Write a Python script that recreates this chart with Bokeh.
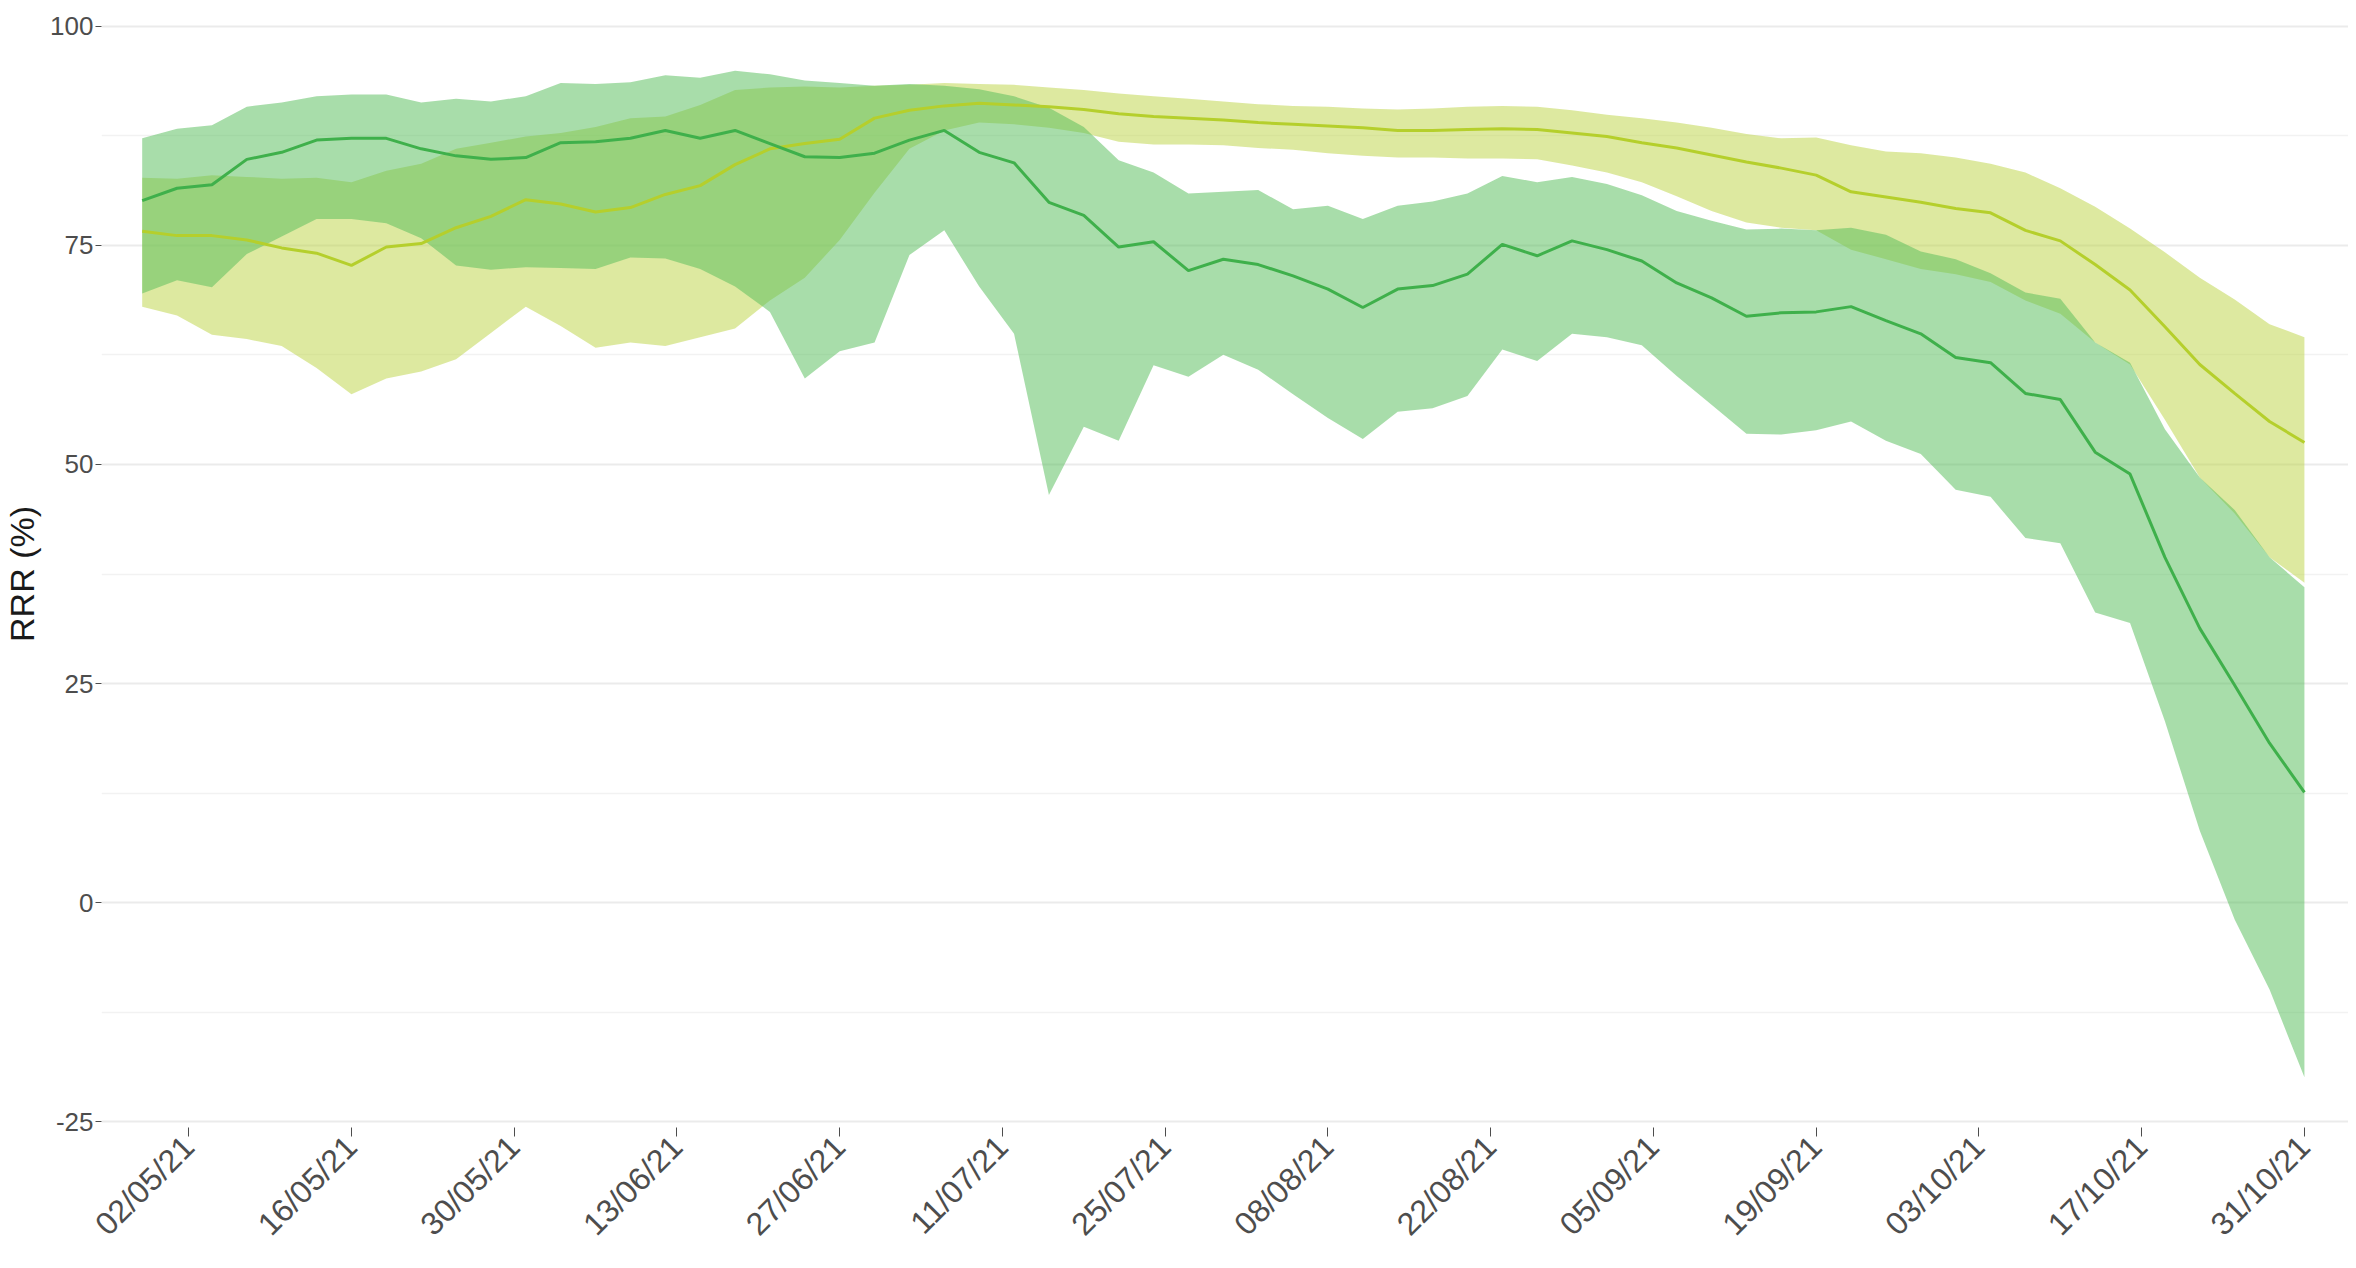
import pandas as pd
from math import pi
from bokeh.plotting import figure
from bokeh.models import Range1d, FixedTicker
from bokeh.embed import file_html
from bokeh.resources import INLINE

dates = pd.date_range("2021-04-28", periods=63, freq="3D")

green_mid = [80.1, 81.5, 81.9, 84.8, 85.6, 87.0, 87.2, 87.2, 86.0, 85.2, 84.8, 85.0,
             86.7, 86.8, 87.2, 88.1, 87.2, 88.1, 86.6, 85.1, 85.0, 85.5, 87.0, 88.1,
             85.6, 84.4, 79.9, 78.4, 74.8, 75.4, 72.1, 73.4, 72.8, 71.5, 70.0, 67.9,
             70.0, 70.4, 71.7, 75.1, 73.8, 75.5, 74.5, 73.2, 70.7, 69.0, 66.9, 67.3,
             67.4, 68.0, 66.4, 64.9, 62.2, 61.6, 58.1, 57.4, 51.4, 48.9, 39.4, 31.3, 24.8, 18.2, 12.6]
green_hi = [87.2, 88.3, 88.7, 90.8, 91.3, 92.0, 92.2, 92.2, 91.3, 91.7, 91.4, 92.0,
            93.5, 93.4, 93.6, 94.4, 94.1, 94.9, 94.5, 93.8, 93.5, 93.2, 93.4, 93.2,
            92.8, 92.0, 90.7, 88.5, 84.7, 83.3, 80.9, 81.1, 81.3, 79.1, 79.5, 78.0,
            79.5, 80.0, 80.9, 82.9, 82.2, 82.8, 82.0, 80.7, 78.9, 77.8, 76.8, 76.9,
            76.7, 77.0, 76.2, 74.3, 73.4, 71.8, 69.6, 68.9, 63.9, 61.6, 54.0, 48.5, 44.8, 39.4, 36.0]
green_lo = [69.5, 71.0, 70.2, 74.0, 76.0, 78.0, 78.0, 77.5, 75.8, 72.7, 72.2, 72.5,
            72.4, 72.3, 73.6, 73.5, 72.3, 70.3, 67.4, 59.8, 62.9, 63.9, 73.9, 76.7,
            70.3, 64.9, 46.5, 54.3, 52.7, 61.3, 60.0, 62.5, 60.8, 58.0, 55.3, 52.9,
            56.0, 56.4, 57.8, 63.1, 61.8, 64.9, 64.5, 63.6, 60.1, 56.8, 53.5, 53.4,
            53.9, 54.9, 52.7, 51.2, 47.1, 46.3, 41.6, 41.0, 33.1, 31.9, 20.7, 8.2, -1.9, -9.9, -19.9]

yellow_mid = [76.6, 76.1, 76.1, 75.6, 74.7, 74.1, 72.7, 74.8, 75.2, 77.0, 78.3, 80.2,
              79.7, 78.8, 79.3, 80.8, 81.8, 84.2, 86.0, 86.6, 87.1, 89.5, 90.4, 90.9,
              91.2, 91.0, 90.8, 90.5, 90.0, 89.7, 89.5, 89.3, 89.0, 88.8, 88.6, 88.4,
              88.1, 88.1, 88.2, 88.3, 88.2, 87.8, 87.4, 86.7, 86.1, 85.3, 84.5, 83.8,
              83.0, 81.1, 80.5, 79.9, 79.2, 78.7, 76.7, 75.5, 72.8, 69.9, 65.7, 61.4, 58.1, 54.9, 52.5]
yellow_hi = [82.7, 82.6, 83.0, 82.8, 82.6, 82.7, 82.2, 83.5, 84.3, 86.0, 86.7, 87.4,
             87.8, 88.5, 89.5, 89.7, 91.0, 92.7, 93.0, 93.1, 93.0, 93.2, 93.3, 93.5,
             93.4, 93.3, 93.0, 92.7, 92.3, 92.0, 91.7, 91.4, 91.1, 90.9, 90.8, 90.6,
             90.5, 90.6, 90.8, 90.9, 90.8, 90.4, 89.9, 89.5, 89.0, 88.4, 87.7, 87.2,
             87.3, 86.4, 85.7, 85.5, 85.0, 84.3, 83.3, 81.5, 79.4, 76.9, 74.2, 71.3, 68.8, 66.0, 64.5]
yellow_lo = [68.0, 67.0, 64.8, 64.3, 63.5, 61.0, 58.0, 59.8, 60.6, 62.0, 65.0, 68.0,
             65.8, 63.3, 63.9, 63.5, 64.5, 65.5, 68.7, 71.3, 75.6, 81.0, 86.0, 88.1,
             89.0, 88.8, 88.4, 87.8, 86.8, 86.5, 86.5, 86.4, 86.1, 85.9, 85.5, 85.2,
             85.0, 85.0, 84.9, 84.9, 84.8, 84.1, 83.3, 82.2, 80.6, 78.9, 77.6, 77.0,
             76.7, 74.5, 73.4, 72.3, 71.7, 70.8, 68.7, 67.2, 63.9, 61.4, 55.1, 48.5, 44.4, 39.4, 36.5]

tick_dates = ["2021-05-02", "2021-05-16", "2021-05-30", "2021-06-13", "2021-06-27",
              "2021-07-11", "2021-07-25", "2021-08-08", "2021-08-22", "2021-09-05",
              "2021-09-19", "2021-10-03", "2021-10-17", "2021-10-31"]
tick_labels = ["02/05/21", "16/05/21", "30/05/21", "13/06/21", "27/06/21",
               "11/07/21", "25/07/21", "08/08/21", "22/08/21", "05/09/21",
               "19/09/21", "03/10/21", "17/10/21", "31/10/21"]
y_ticks = [-25, 0, 25, 50, 75, 100]
y_tick_labels = ["-25", "0", "25", "50", "75", "100"]
y_minor = [-12.5, 12.5, 37.5, 62.5, 87.5]

# ---- figure ----
p = figure(width=2348, height=1260, x_axis_type="datetime",
           output_backend="svg", toolbar_location=None,
           x_range=Range1d(pd.Timestamp("2021-04-24 12:00"), pd.Timestamp("2021-11-03 19:00")),
           y_range=Range1d(-25.64, 100.64),
           min_border_left=94, min_border_right=0, min_border_top=20, min_border_bottom=133)
p.outline_line_color = None
p.background_fill_color = "white"
p.border_fill_color = "white"

fill_green = "#58be5c"
fill_yellow = "#bed548"
line_green = "#3fb04b"
line_yellow = "#b5cf2c"

p.varea(x=dates, y1=yellow_lo, y2=yellow_hi, fill_color=fill_yellow, fill_alpha=0.52)
p.varea(x=dates, y1=green_lo, y2=green_hi, fill_color=fill_green, fill_alpha=0.52)
p.line(dates, yellow_mid, line_color=line_yellow, line_width=3)
p.line(dates, green_mid, line_color=line_green, line_width=3)

# ---- axes ----
tick_ms = [pd.Timestamp(t).value / 1e6 for t in tick_dates]
p.xaxis.ticker = FixedTicker(ticks=tick_ms)
p.xaxis.major_label_overrides = {t: lab for t, lab in zip(tick_ms, tick_labels)}
p.xaxis.major_label_orientation = pi / 4
p.yaxis.ticker = FixedTicker(ticks=y_ticks, minor_ticks=y_minor)
p.yaxis.major_label_overrides = {t: lab for t, lab in zip(y_ticks, y_tick_labels)}
p.yaxis.axis_label = "RRR (%)"

for ax in (p.xaxis[0], p.yaxis[0]):
    ax.axis_line_color = None
    ax.minor_tick_line_color = None
    ax.major_tick_line_color = "#4d4d4d"
    ax.major_tick_line_width = 1
    ax.major_tick_in = 0
    ax.major_label_text_font = "Liberation Sans"
    ax.major_label_text_color = "#4d4d4d"

p.xaxis.major_tick_out = 9
p.xaxis.major_label_text_font_size = "32px"
p.xaxis.major_label_standoff = 5
p.yaxis.major_tick_out = 6
p.yaxis.major_label_text_font_size = "26px"
p.yaxis.major_label_standoff = 2
p.yaxis.axis_label_text_font = "Liberation Sans"
p.yaxis.axis_label_text_font_size = "34px"
p.yaxis.axis_label_text_font_style = "normal"
p.yaxis.axis_label_text_color = "#1a1a1a"
p.yaxis.axis_label_standoff = 6

p.xgrid.grid_line_color = None
p.ygrid.grid_line_color = "#ebebeb"
p.ygrid.grid_line_width = 2
p.ygrid.minor_grid_line_color = "#f2f2f2"
p.ygrid.minor_grid_line_width = 1.5

open("out.html", "w").write(file_html(p, INLINE))
